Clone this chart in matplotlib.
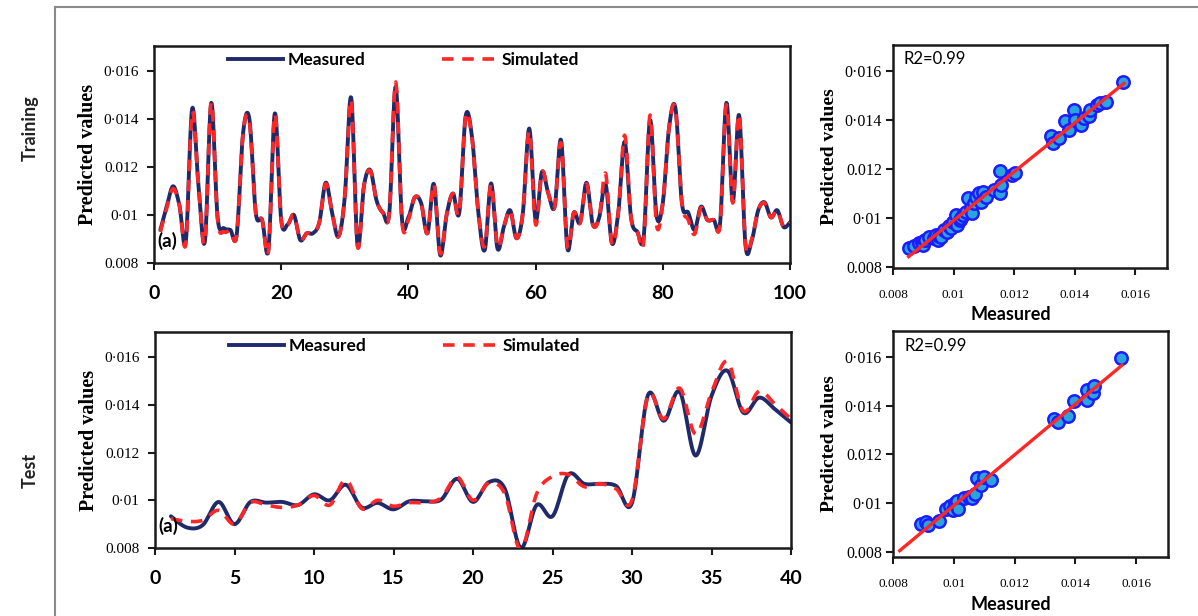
import numpy as np
import matplotlib
matplotlib.use("Agg")
import matplotlib.pyplot as plt
from matplotlib.lines import Line2D

# ---------------- data ----------------
train_x = list(range(1, 101))
train_measured = [
    0.00938, 0.01035, 0.0112, 0.0104, 0.0089, 0.01444, 0.0112, 0.0089, 0.01468, 0.0099,
    0.00945, 0.00938, 0.00917, 0.0134, 0.0140, 0.0101, 0.0098, 0.00857, 0.01424, 0.0098,
    0.0096, 0.0100, 0.00896, 0.00924, 0.00924, 0.0097, 0.01135, 0.0101, 0.0091, 0.01076,
    0.0149, 0.00875, 0.0112, 0.01188, 0.0106, 0.0101, 0.0101, 0.01535, 0.0098, 0.0099,
    0.01074, 0.0105, 0.00924, 0.0113, 0.00833, 0.0100, 0.0109, 0.0101, 0.01412, 0.01326,
    0.0101, 0.00854, 0.01132, 0.00861, 0.0095, 0.0102, 0.00903, 0.0101, 0.01361, 0.0098,
    0.0118, 0.0109, 0.01035, 0.01313, 0.00861, 0.0101, 0.00968, 0.01135, 0.0096, 0.0099,
    0.0113, 0.00882, 0.0101, 0.01306, 0.0099, 0.0093, 0.0091, 0.01396, 0.0100, 0.0105,
    0.01368, 0.01444, 0.0105, 0.0101, 0.00938, 0.01035, 0.0098, 0.0098, 0.00965, 0.01468,
    0.01056, 0.01417, 0.00875, 0.00896, 0.0102, 0.01053, 0.0099, 0.0102, 0.0095, 0.0097,
]
train_simulated = [
    0.0093, 0.0103, 0.0111, 0.0104, 0.0088, 0.0143, 0.0112, 0.0089, 0.0147, 0.0098,
    0.0093, 0.00935, 0.00917, 0.0134, 0.0139, 0.0101, 0.0098, 0.0085, 0.0142, 0.0098,
    0.0096, 0.0100, 0.00896, 0.00924, 0.00924, 0.0097, 0.0113, 0.0101, 0.0091, 0.01076,
    0.0148, 0.0087, 0.0112, 0.01185, 0.0106, 0.0101, 0.0101, 0.01555, 0.0097, 0.0098,
    0.01074, 0.0105, 0.00924, 0.0113, 0.0084, 0.0100, 0.0109, 0.0101, 0.0141, 0.0132,
    0.0101, 0.0087, 0.0113, 0.0087, 0.0095, 0.0102, 0.00903, 0.0101, 0.0135, 0.0096,
    0.0118, 0.0109, 0.01035, 0.0130, 0.0087, 0.0101, 0.00968, 0.0113, 0.0096, 0.0099,
    0.01174, 0.0088, 0.0101, 0.01333, 0.0099, 0.0093, 0.0089, 0.01417, 0.0096, 0.0105,
    0.0137, 0.0144, 0.0105, 0.0098, 0.0092, 0.0103, 0.0098, 0.0098, 0.0096, 0.0146,
    0.0105, 0.0142, 0.0088, 0.0090, 0.0102, 0.0105, 0.0099, 0.0102, 0.0095, 0.0097,
]

test_x = list(range(1, 41))
test_measured = [
    0.00933, 0.00886, 0.00896, 0.00993, 0.0090, 0.00993, 0.0099, 0.00993, 0.0098, 0.01025,
    0.0100, 0.01065, 0.0097, 0.00989, 0.00962, 0.00996, 0.00996, 0.01003, 0.0109, 0.00993,
    0.01076, 0.01048, 0.0080, 0.0098, 0.00933, 0.01108, 0.01069, 0.01069, 0.0106, 0.00989,
    0.0144, 0.01333, 0.01455, 0.01187, 0.01437, 0.01543, 0.01367, 0.0143, 0.01381, 0.01326,
]
test_simulated = [
    0.00923, 0.00912, 0.00916, 0.00958, 0.0090, 0.0099, 0.0098, 0.0097, 0.0098, 0.0102,
    0.0098, 0.01085, 0.00965, 0.0100, 0.00975, 0.0099, 0.0099, 0.0101, 0.01097, 0.0100,
    0.01072, 0.01027, 0.00792, 0.01027, 0.0110, 0.01108, 0.01057, 0.01069, 0.01048, 0.0100,
    0.01437, 0.0134, 0.0147, 0.01277, 0.01451, 0.01582, 0.01374, 0.01457, 0.01402, 0.0134,
]

# scatter (measured vs predicted) points
train_sc_meas = [
    0.00852, 0.00870, 0.00885, 0.00897, 0.00900, 0.00905, 0.00919, 0.00935, 0.00943, 0.00947,
    0.00952, 0.00960, 0.00969, 0.00980, 0.00985, 0.00990, 0.00997, 0.01008, 0.01013, 0.01020,
    0.01024, 0.01030, 0.01041, 0.01047, 0.01058, 0.01060, 0.01069, 0.01074, 0.01085, 0.01091,
    0.01097, 0.01108, 0.01135, 0.01152, 0.01155, 0.01158, 0.01194, 0.01202,
    0.01322, 0.01327, 0.01347, 0.01369, 0.01380, 0.01397, 0.01402, 0.01422, 0.01430, 0.01447,
    0.01452, 0.01474, 0.01485, 0.01502, 0.01560,
]
train_sc_pred = [
    0.00878, 0.00885, 0.00896, 0.00902, 0.00890, 0.00909, 0.00920, 0.00916, 0.00930, 0.00909,
    0.00926, 0.00920, 0.00950, 0.00943, 0.00966, 0.00960, 0.00984, 0.01011, 0.00970, 0.00990,
    0.00998, 0.01011, 0.01025, 0.01080, 0.01039, 0.01020, 0.01059, 0.01086, 0.01100, 0.01066,
    0.01107, 0.01086, 0.01114, 0.01100, 0.01191, 0.01134, 0.01175, 0.01182,
    0.01335, 0.01305, 0.01325, 0.01393, 0.01359, 0.01438, 0.01400, 0.01380, 0.01407, 0.01414,
    0.01441, 0.01461, 0.01468, 0.01471, 0.01553,
]
test_sc_meas = [
    0.00893, 0.00910, 0.00915, 0.00951, 0.00973, 0.00989, 0.00998, 0.01003, 0.01011, 0.01014,
    0.01033, 0.01050, 0.01061, 0.01069, 0.01078, 0.01091, 0.01100, 0.01122,
    0.01331, 0.01342, 0.01377, 0.01395, 0.01439, 0.01439, 0.01457, 0.01463, 0.01549,
]
test_sc_pred = [
    0.00917, 0.00924, 0.00910, 0.00926, 0.00976, 0.00988, 0.00972, 0.01002, 0.01010, 0.00975,
    0.01020, 0.01024, 0.01020, 0.01038, 0.01102, 0.01075, 0.01109, 0.01096,
    0.01343, 0.01333, 0.01359, 0.01419, 0.01463, 0.01423, 0.01453, 0.01478, 0.01593,
]
train_fit_range = [0.00852, 0.01563]
test_fit_range = [0.00822, 0.01554]

y_ticks = [0.008, 0.010, 0.012, 0.014, 0.016]
y_tick_labels = ["0.008", "0\u00b701", "0.012", "0\u00b7014", "0\u00b7016"]
sc_x_tick_labels = ["0.008", "0.01", "0.012", "0.014", "0.016"]
train_xticks = [0, 20, 40, 60, 80, 100]
test_xticks = [0, 5, 10, 15, 20, 25, 30, 35, 40]

NAVY = "#1f2a6b"
RED = "#ff2626"
SERIF = "Liberation Serif"
SANS = "Lato"


def smooth(x, y, n=14):
    P = np.column_stack([np.asarray(x, float), np.asarray(y, float)])
    P = np.vstack([P[0], P, P[-1]])
    segs = []
    t = np.linspace(0, 1, n, endpoint=False)[:, None]
    for i in range(1, len(P) - 2):
        p0, p1, p2, p3 = P[i - 1], P[i], P[i + 1], P[i + 2]
        segs.append(0.5 * (2 * p1 + (-p0 + p2) * t + (2 * p0 - 5 * p1 + 4 * p2 - p3) * t ** 2
                           + (-p0 + 3 * p1 - 3 * p2 + p3) * t ** 3))
    segs.append(P[-2][None, :])
    S = np.vstack(segs)
    return S[:, 0], S[:, 1]


fig = plt.figure(figsize=(11.98, 6.16), dpi=100)
W, H = 1198, 616


def add_ax(l, t, r, b):
    return fig.add_axes([l / W, 1 - b / H, (r - l) / W, (b - t) / H])


def style_axes(ax):
    for s in ax.spines.values():
        s.set_linewidth(1.8)
        s.set_color("#1a1a1a")
    ax.tick_params(direction="out", length=5, width=1.5, color="#1a1a1a")


def line_panel(ax, x, meas, sim, xticks, xmax):
    mx, my = smooth(x, meas)
    sx, sy = smooth(x, sim)
    ax.plot(mx, my, color=NAVY, lw=2.8, solid_capstyle="round", zorder=2)
    ax.plot(sx, sy, color=RED, lw=2.6, dashes=(3.2, 2.4), zorder=3)
    ax.set_xlim(0, xmax)
    ax.set_ylim(0.008, 0.01705)
    ax.set_xticks(xticks)
    ax.set_xticklabels([str(v) for v in xticks], fontfamily=SANS, fontweight="bold", fontsize=14)
    ax.set_yticks(y_ticks)
    ax.set_yticklabels(y_tick_labels, fontfamily=SERIF, fontsize=11)
    style_axes(ax)
    ax.tick_params(axis="x", pad=11)
    ax.tick_params(axis="y", pad=6)
    ax.set_ylabel("Predicted values", fontfamily=SERIF, fontweight="bold", fontsize=14.5, labelpad=4)
    handles = [Line2D([], [], color=NAVY, lw=2.8),
               Line2D([], [], color=RED, lw=2.6, dashes=(3.2, 2.4))]
    ax.legend(handles, ["Measured", "Simulated"], ncol=2, frameon=False,
              loc="center left", bbox_to_anchor=(0.116, 0.935), borderaxespad=0, borderpad=0,
              handlelength=3.2, handletextpad=0.25, columnspacing=4.4,
              prop={"family": SANS, "weight": "bold", "size": 12.5})
    ax.text(0.006, 0.1, "(a)", transform=ax.transAxes, fontfamily=SANS, fontweight="bold",
            fontsize=13.5, va="center", ha="left")


def scatter_panel(ax, xm, yp, fit_range, ylo):
    ax.scatter(xm, yp, s=80, c="#2aa4dc", edgecolors="#1c1cff", linewidths=1.8, zorder=3)
    k, c0 = np.polyfit(xm, yp, 1)
    fx = np.array(fit_range)
    ax.plot(fx, k * fx + c0, color=RED, lw=2.4, zorder=4)
    ax.set_xlim(0.008, 0.01705)
    ax.set_ylim(ylo, 0.01705)
    ax.set_xticks(y_ticks)
    ax.set_xticklabels(sc_x_tick_labels, fontfamily=SERIF, fontsize=9.5)
    ax.set_yticks(y_ticks)
    ax.set_yticklabels(y_tick_labels, fontfamily=SERIF, fontsize=11.5)
    style_axes(ax)
    ax.tick_params(axis="x", pad=10)
    ax.tick_params(axis="y", pad=3)
    ax.set_ylabel("Predicted values", fontfamily=SERIF, fontweight="bold", fontsize=14, labelpad=5)
    ax.text(0.43, -0.21, "Measured", transform=ax.transAxes, ha="center", va="center",
            fontfamily=SANS, fontweight="bold", fontsize=13)
    ax.text(0.04, 0.935, "R2=0.99", transform=ax.transAxes, ha="left", va="center",
            fontfamily=SANS, fontsize=12)


ax1 = add_ax(154, 46, 790, 263)
line_panel(ax1, train_x, train_measured, train_simulated, train_xticks, 100)
ax2 = add_ax(155, 332, 791, 548)
line_panel(ax2, test_x, test_measured, test_simulated, test_xticks, 40)
ax3 = add_ax(893, 45, 1167, 268)
scatter_panel(ax3, train_sc_meas, train_sc_pred, train_fit_range, 0.00795)
ax4 = add_ax(893, 331, 1168, 557)
scatter_panel(ax4, test_sc_meas, test_sc_pred, test_fit_range, 0.0078)

# row labels
fig.text(30 / W, 1 - 128 / H, "Training", rotation=90, ha="center", va="center",
         fontfamily=SANS, fontweight="bold", fontsize=13, color="#222222")
fig.text(30 / W, 1 - 470 / H, "Test", rotation=90, ha="center", va="center",
         fontfamily=SANS, fontweight="bold", fontsize=13, color="#222222")

# outer frame
fig.add_artist(Line2D([55 / W, 55 / W], [0, 1 - 7 / H], transform=fig.transFigure,
                      color="#8a8a8a", lw=1.5))
fig.add_artist(Line2D([55 / W, 1], [1 - 7 / H, 1 - 7 / H], transform=fig.transFigure,
                      color="#8a8a8a", lw=1.5))

fig.savefig("out.png", dpi=100)
